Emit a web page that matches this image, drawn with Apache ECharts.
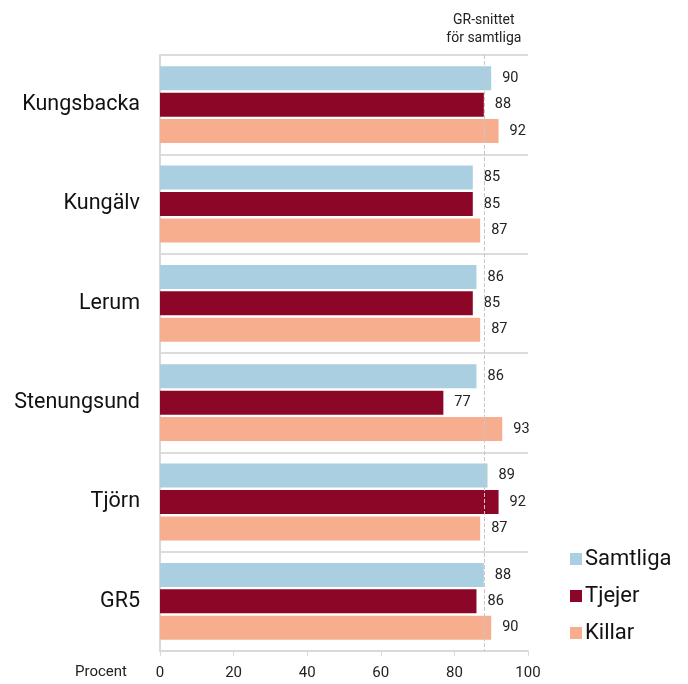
<!DOCTYPE html>
<html>
<head>
<meta charset="utf-8">
<script src="https://cdn.jsdelivr.net/npm/echarts@6/dist/echarts.min.js"></script>
<style>
  html, body { margin: 0; padding: 0; background: #fff; }
  #chart { width: 688px; height: 684px; }
</style>
</head>
<body>
<div id="chart"></div>
<script>
var kommuner = ['Kungsbacka', 'Kungälv', 'Lerum', 'Stenungsund', 'Tjörn', 'GR5'];
var samtliga = [90, 85, 86, 86, 89, 88];
var tjejer = [88, 85, 85, 77, 92, 86];
var killar = [92, 87, 87, 93, 87, 90];
var grSnitt = 88;
var xTicks = [0, 20, 40, 60, 80, 100];

var font = 'Roboto, "Liberation Sans", sans-serif';

function barSeries(name, data, color) {
  return {
    name: name,
    type: 'bar',
    data: data,
    barWidth: 24,
    barGap: '10%',
    itemStyle: { color: color },
    label: {
      show: true,
      position: 'right',
      distance: 11,
      color: '#222',
      fontSize: 14.5,
      fontFamily: font
    }
  };
}

var chart = echarts.init(document.getElementById('chart'));

var series = [
  barSeries('Samtliga', samtliga, '#a9cfe0'),
  barSeries('Tjejer', tjejer, '#8b0627'),
  barSeries('Killar', killar, '#f6ae8f')
];

// GR-snittet, dashed reference line
series[0].markLine = {
  silent: true,
  symbol: 'none',
  lineStyle: { color: '#c8c8c8', type: 'dashed', width: 1 },
  label: {
    show: true,
    position: 'start',
    distance: 8,
    formatter: 'GR-snittet\nför samtliga',
    color: '#222',
    fontSize: 14,
    lineHeight: 18,
    fontFamily: font
  },
  data: [{ xAxis: grSnitt }]
};

var option = {
  animation: false,
  grid: { left: 160, right: 160, top: 55, bottom: 33 },
  legend: {
    orient: 'vertical',
    left: 565,
    top: 543,
    itemWidth: 12,
    itemHeight: 12,
    itemGap: 15,
    icon: 'rect',
    textStyle: { fontSize: 22, color: '#111', fontFamily: font, padding: [0, 0, 0, -2] },
    data: ['Samtliga', 'Tjejer', 'Killar']
  },
  xAxis: {
    type: 'value',
    min: 0,
    max: 100,
    interval: 20,
    axisLine: { show: true, lineStyle: { color: '#d9d9d9', width: 2 } },
    axisTick: { show: true, length: 5, lineStyle: { color: '#d9d9d9' } },
    axisLabel: {
      color: '#222',
      fontSize: 15,
      margin: 15,
      fontFamily: font,
      formatter: function (v) { return xTicks.indexOf(v) >= 0 ? String(v) : ''; }
    },
    splitLine: { show: false }
  },
  yAxis: {
    type: 'category',
    data: kommuner,
    inverse: true,
    axisLine: { show: true, lineStyle: { color: '#d9d9d9', width: 2 } },
    axisTick: { show: false },
    splitLine: { show: true, lineStyle: { color: '#dcdcdc', width: 2 } },
    axisLabel: { color: '#111', fontSize: 21.5, margin: 20, fontFamily: font }
  },
  graphic: [{
    type: 'text',
    right: 561,
    top: 665,
    style: { text: 'Procent', fontSize: 15, fill: '#222', fontFamily: font }
  }],
  series: series
};

chart.setOption(option);
</script>
</body>
</html>
